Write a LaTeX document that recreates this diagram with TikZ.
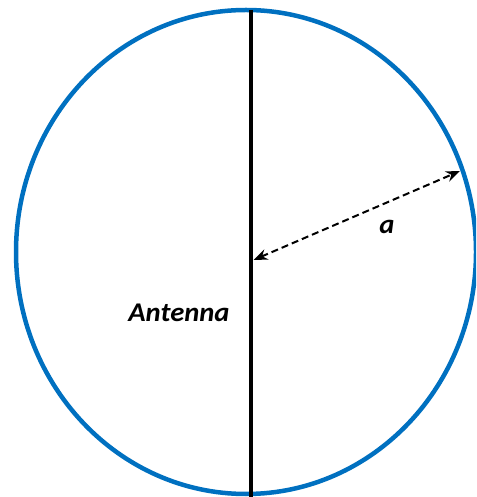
\documentclass[tikz,border=0pt]{standalone}
\usepackage{fontspec}
\setmainfont{Carlito}
\usetikzlibrary{arrows.meta}
\definecolor{rimblue}{HTML}{0070C0}
\begin{document}
\begin{tikzpicture}[x=1pt,y=1pt,
        rim/.style={rimblue, line width=4.5pt},
        mast/.style={black, line width=4pt},
        radial/.style={dash pattern=on 7pt off 4pt, line width=2pt,
            {Stealth[length=14pt,width=11pt]}-{Stealth[length=14pt,width=11pt]}},
        lbl/.style={font=\fontsize{27}{30}\selectfont\bfseries\itshape, xscale=1.06}]
        \useasboundingbox (0,0) rectangle (476,497);
        \clip (0,0) rectangle (476,497);

        % Enclosing sphere
        \coordinate (centre) at (246,245);
        \draw[rim] (centre) ellipse [x radius=230pt, y radius=242pt];

        % Antenna along the axis
        \coordinate (top) at (251,487);
        \coordinate (bottom) at (251,-2);
        \draw[mast] (top) -- (bottom);

        % Radius of the sphere
        \coordinate (feed) at (253.5,237);
        \coordinate (edge) at (460,326);
        \draw[radial] (feed) -- (edge);
        \node[lbl] (radius) at (387,270) {a};

        \node[lbl] (antenna) at (179,184) {Antenna};
    \end{tikzpicture}
\end{document}
